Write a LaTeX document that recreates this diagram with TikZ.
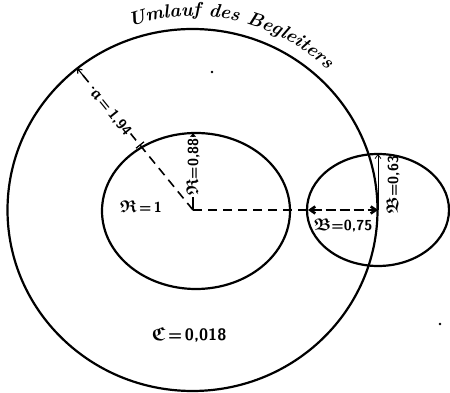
\documentclass[tikz,border=0pt]{standalone}
\usepackage{amssymb}
\usepackage{amsmath}
\usetikzlibrary{arrows.meta,decorations.text,calc}
\newcommand{\frk}[1]{{\fontsize{17}{19}\selectfont$\boldsymbol{\mathfrak{#1}}$}}
\newcommand{\frkbig}[1]{{\fontsize{19}{21}\selectfont$\boldsymbol{\mathfrak{#1}}$}}
\tikzset{
  orbit/.style={line width=2.2pt},
  dashln/.style={line width=1.6pt, dash pattern=on 9pt off 6pt},
  heavydash/.style={line width=2.6pt, dash pattern=on 10pt off 4pt},
  dimarrow/.style={line width=1.1pt, -{Straight Barb[length=4pt,width=6pt]}},
  lbl/.style={font=\sffamily\bfseries\fontsize{14.5}{16}\selectfont, inner sep=1pt},
  lblbig/.style={font=\sffamily\bfseries\fontsize{16.5}{18}\selectfont, inner sep=1pt},
  lblw/.style={lbl, fill=white},
  speck/.style={fill=black, inner sep=0pt, minimum size=2.6pt, circle}
}
\begin{document}
\begin{tikzpicture}[x=1pt,y=1pt]
\useasboundingbox (0,0) rectangle (450,393);
% centres
\coordinate (S) at (193,183);
\coordinate (B) at (378,183);
% big orbit
\draw[orbit] (192.5,183) ellipse[x radius=185, y radius=181];
% inner ellipse
\draw[orbit] (196,182) ellipse[x radius=94, y radius=78];
% companion ellipse
\draw[orbit] (B) ellipse[x radius=71, y radius=56];
% named points
\coordinate (Atop) at (77,325);
\coordinate (Rtop) at (193,260);
\coordinate (Bleft) at (308,183);
\coordinate (Btop) at (378,239);
\coordinate (Tick) at (140,248);
% a = 1,94
\draw[dashln] (S) -- (Atop);
\draw[dimarrow] ($(S)!0.93!(Atop)$) -- (Atop);
\draw[line width=1.2pt] ($(Tick)+(-4,-3.2)$) -- ($(Tick)+(4,3.2)$);
\node[lblw, rotate=-51] (alab) at (111,281) {\frk{a}\,=\,1,94};
% R = 0,88
\draw[dimarrow] (S) -- (Rtop);
\node[lblw, rotate=90] (rlab) at (193,226) {\frk{R}=0,88};
% line between centres
\draw[dashln] (S) -- (Bleft);
\draw[heavydash, {Straight Barb[length=5pt,width=7pt]}-{Straight Barb[length=5pt,width=7pt]}] (Bleft) -- (B);
% B = 0,63
\draw[line width=0.8pt, -{Straight Barb[length=4pt,width=6pt]}] (B) -- (Btop);
\node[lbl, rotate=90] (b2lab) at (393,208) {\frk{B}=0,63};
% labels
\node[lbl] (b1lab) at (343,168) {\frk{B}=0,75};
\node[lbl] (rone) at (141,186) {\frk{R}\,=\,1};
\node[lblbig] (clab) at (189,58) {\frkbig{C}\,=\,0,018};
% title along the orbit
\path[decorate, decoration={text along path, text format delimiters={|}{|},
  text={|\fontsize{19}{21}\selectfont\itshape\bfseries|Umlauf des Begleiters}, text align=center}]
  (193,183) ++(109:194) arc[start angle=109, end angle=46, radius=194];
% specks
\node[speck] (d1) at (212,321) {};
\node[speck] (d2) at (440,69) {};
\end{tikzpicture}
\end{document}
